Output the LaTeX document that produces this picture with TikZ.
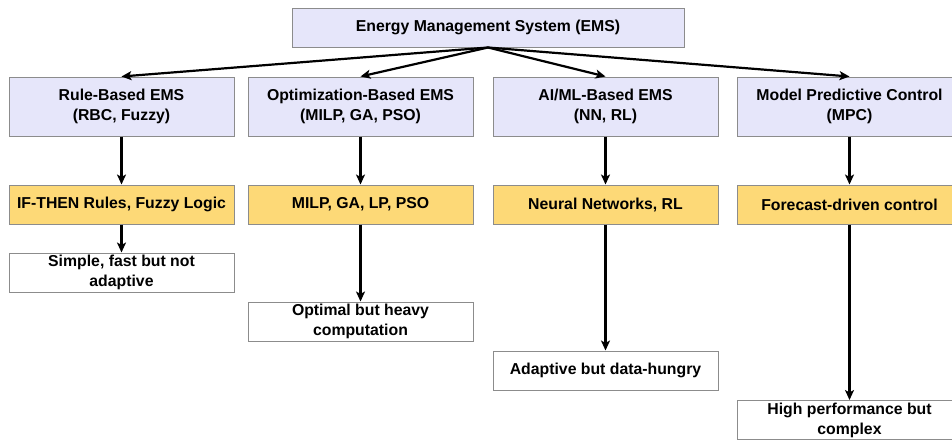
\documentclass[tikz,border=0pt]{standalone}
\usepackage{fontspec}
\setmainfont{Liberation Sans}
\usepackage{xcolor}
\usepackage{tikz}
\usetikzlibrary{arrows.meta}

\definecolor{emsblue}{HTML}{E6E6FA}
\definecolor{emsgold}{HTML}{FDD977}
\definecolor{emsgray}{HTML}{8C8C8C}

\begin{document}
\begin{tikzpicture}[x=1pt, y=-1pt,
		font=\fontsize{15.8}{20}\selectfont\bfseries,
		box/.style={draw=emsgray, line width=1pt, inner sep=0pt, align=center, minimum width=225pt, minimum height=39pt},
		headbox/.style={box, fill=emsblue},
		methodbox/.style={box, fill=emsgold},
		notebox/.style={box, fill=white},
		arr/.style={line width=2.2pt, -{Stealth[length=10pt, width=9pt, inset=2.5pt]}}]
		\useasboundingbox (0,0) rectangle (952,439);
		
		\node[headbox, minimum width=392pt] (ems) at (488,27.5) {Energy Management System (EMS)};
		
		\node[headbox, minimum height=59pt] (rb) at (121.5,106.5) {Rule-Based EMS\\(RBC, Fuzzy)};
		\node[headbox, minimum height=59pt] (ob) at (360.5,106.5) {Optimization-Based EMS\\(MILP, GA, PSO)};
		\node[headbox, minimum height=59pt] (ai) at (605.5,106.5) {AI/ML-Based EMS\\(NN, RL)};
		\node[headbox, minimum height=59pt] (mpc) at (849.5,106.5) {Model Predictive Control\\(MPC)};
		
		\node[methodbox] (rbm) at (121.5,204.5) {IF-THEN Rules, Fuzzy Logic};
		\node[methodbox] (obm) at (360.5,204.5) {MILP, GA, LP, PSO};
		\node[methodbox] (aim) at (605.5,204.5) {Neural Networks, RL};
		\node[methodbox] (mpcm) at (849.5,204.5) {Forecast-driven control};
		
		\node[notebox] (rbn) at (121.5,272.5) {Simple, fast but not\\adaptive};
		\node[notebox] (obn) at (360.5,321.5) {Optimal but heavy\\computation};
		\node[notebox] (ain) at (605.5,370.5) {Adaptive but data-hungry};
		\node[notebox] (mpcn) at (849.5,420) {High performance but\\complex};
		
		\foreach \a/\b/\c in {rb/rbm/rbn, ob/obm/obn, ai/aim/ain, mpc/mpcm/mpcn}{
			\draw[arr] (ems.south) -- (\a.north);
			\draw[arr] (\a.south) -- (\b.north);
			\draw[arr] (\b.south) -- (\c.north);
		}
	\end{tikzpicture}
\end{document}
